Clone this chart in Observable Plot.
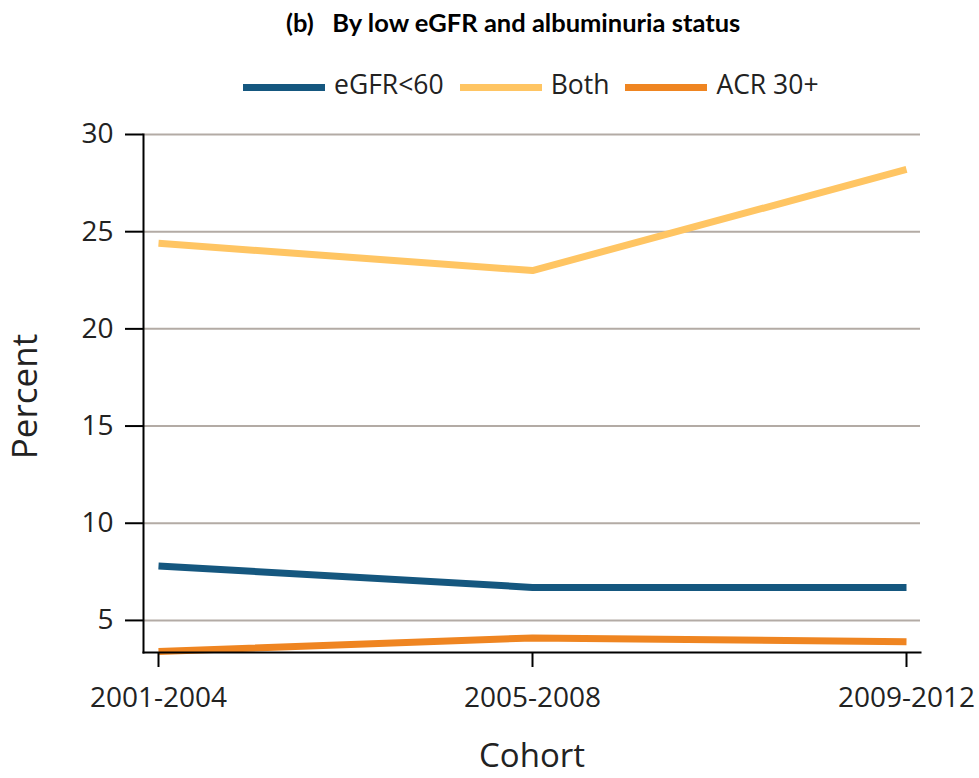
<!DOCTYPE html>
<html>
<head>
<meta charset="utf-8">
<script src="https://cdn.jsdelivr.net/npm/d3@7"></script>
<script src="https://cdn.jsdelivr.net/npm/@observablehq/plot@0.6"></script>
<style>
  html, body { margin: 0; padding: 0; background: #fff; }
  #page { position: relative; width: 979px; height: 778px; overflow: hidden; font-family: "Open Sans", sans-serif; color: #222; }
  #title { position: absolute; top: 7px; left: 286px; font-family: Lato, "Open Sans", sans-serif; font-weight: 700; font-size: 25.5px; white-space: pre; color: #000; }
  #legend { position: absolute; top: 66px; left: 243px; display: flex; align-items: center; font-size: 26.5px; white-space: nowrap; }
  #legend .item { display: flex; align-items: center; margin-right: 16px; }
  #legend .sw { width: 82px; height: 7px; margin-right: 9px; position: relative; top: 3px; }
  #chart { position: absolute; top: 110px; left: 0; }
</style>
</head>
<body>
<div id="page">
  <div id="title"></div>
  <div id="legend"></div>
  <div id="chart"></div>
</div>
<script>
// Cohorts along the x axis
const cohorts = ["2001-2004", "2005-2008", "2009-2012"];
// Percent by cohort for each group
const egfrLow = [7.8, 6.7, 6.7];
const bothValues = [24.4, 23.0, 28.2];
const acrHigh = [3.4, 4.1, 3.9];
// Series names and colours, in legend order
const seriesNames = ["eGFR<60", "Both", "ACR 30+"];
const seriesColors = ["#15577f", "#ffc563", "#ef8521"];
const yTicks = [5, 10, 15, 20, 25, 30];

const seriesValues = [egfrLow, bothValues, acrHigh];
const rows = [];
seriesNames.forEach((name, i) => {
  cohorts.forEach((c, j) => rows.push({series: name, cohort: c, value: seriesValues[i][j]}));
});

document.getElementById("title").textContent = "(b)   By low eGFR and albuminuria status";

const legend = document.getElementById("legend");
seriesNames.forEach((name, i) => {
  const item = document.createElement("div");
  item.className = "item";
  const sw = document.createElement("span");
  sw.className = "sw";
  sw.style.background = seriesColors[i];
  const label = document.createElement("span");
  label.textContent = name;
  item.appendChild(sw);
  item.appendChild(label);
  legend.appendChild(item);
});

const chart = Plot.plot({
  width: 979,
  height: 668,
  marginLeft: 143,
  marginRight: 59,
  marginTop: 24,
  marginBottom: 126,
  style: {fontFamily: "Open Sans, sans-serif", fontSize: "28px", color: "#222", background: "#fff", overflow: "visible"},
  x: {type: "point", domain: cohorts, padding: 0.0374, label: null},
  y: {domain: [3.35, 30], ticks: yTicks, label: null},
  color: {domain: seriesNames, range: seriesColors},
  marks: [
    Plot.gridY(yTicks, {stroke: "#b3aba5", strokeOpacity: 1, strokeWidth: 2}),
    Plot.line(rows, {x: "cohort", y: "value", z: "series", stroke: "series", strokeWidth: 7, strokeLinecap: "butt", strokeLinejoin: "round"}),
    Plot.frame({anchor: "left", stroke: "#000", strokeWidth: 2}),
    Plot.frame({anchor: "bottom", stroke: "#000", strokeWidth: 2}),
    Plot.axisY(yTicks, {tickSize: 18, tickPadding: 12, strokeWidth: 2, stroke: "#000", fill: "#222", fontSize: 28, label: null}),
    Plot.axisX({tickSize: 15, tickPadding: 20, strokeWidth: 2, stroke: "#000", fill: "#222", fontSize: 28, label: null}),
    Plot.text(["Percent"], {text: d => d, frameAnchor: "left", textAnchor: "middle", rotate: -90, dx: -118, dy: 3, fontSize: 35, fill: "#222"}),
    Plot.text(["Cohort"], {text: d => d, frameAnchor: "bottom", textAnchor: "middle", dy: 114, fontSize: 33, fill: "#222"})
  ]
});
document.getElementById("chart").appendChild(chart);
</script>
</body>
</html>
